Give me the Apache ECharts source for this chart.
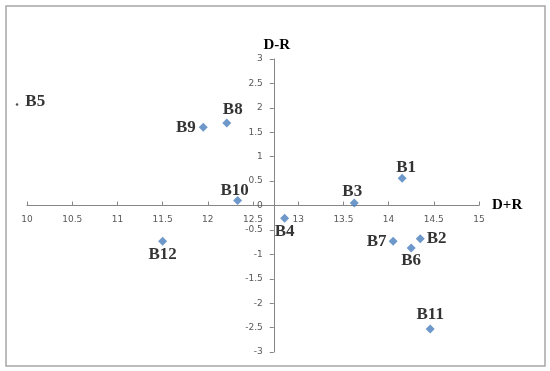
<!DOCTYPE html>
<html><head><meta charset="utf-8">
<script src="https://cdn.jsdelivr.net/npm/echarts@6/dist/echarts.min.js"></script>
<style>html,body{margin:0;padding:0;background:#fff}#c{width:550px;height:371px}</style>
</head><body><div id="c"></div>
<script>
// ---- data ----
const names   = ['B1','B2','B3','B4','B6','B7','B8','B9','B10','B11','B12'];
const dPlusR  = [14.15,14.35,13.62,12.85,14.25,14.05,12.21,11.95,12.33,14.46,11.50];
const dMinusR = [0.56,-0.68,0.05,-0.26,-0.87,-0.73,1.69,1.60,0.10,-2.53,-0.73];
const offNames = ['B5'];
const offX = [9.89];
const offY = [2.07];
const xMin = 10, xMax = 15, xStep = 0.5;
const yMin = -3, yMax = 3, yStep = 0.5;
const yCross = 12.73;
const xCross = 0;

// ---- style (label placement) ----
const labelStyle = {
  B1:{position:'top',distance:-2,offset:[4,0]},
  B2:{position:'right',distance:2},
  B3:{position:'top',distance:-2,offset:[-2,0]},
  B4:{position:'bottom',distance:0},
  B6:{position:'bottom',distance:0},
  B7:{position:'left',distance:2},
  B8:{position:'top',distance:0,offset:[6,0]},
  B9:{position:'left',distance:3},
  B10:{position:'top',distance:-3,offset:[-3,0]},
  B11:{position:'top',distance:1},
  B12:{position:'bottom',distance:0}
};

const W = 550, H = 371;
const gridLeft = 27, gridRight = 71, gridTop = 59, gridBottom = 19;
const lblFont = {fontFamily:'"Liberation Serif", serif', fontWeight:'bold', fontSize:17, color:'#000'};
const axisColor = '#868686';

const chart = echarts.init(document.getElementById('c'), null, {renderer:'canvas'});
const option = {
  backgroundColor:'#fff',
  animation:false,
  grid:{left:gridLeft,right:gridRight,top:gridTop,bottom:gridBottom,containLabel:false,outerBoundsMode:'none'},
  graphic:[{type:'rect',shape:{x:6,y:6,width:539,height:360},style:{fill:'none',stroke:'#a6a6a6',lineWidth:1.5},z:-1}],
  xAxis:{
    type:'value',min:xMin,max:xMax,interval:xStep,position:'bottom',
    name:'D+R',nameLocation:'end',nameGap:13,
    nameTextStyle:{fontFamily:'"Liberation Serif", serif',fontWeight:'bold',fontSize:15,color:'#000',padding:[5,0,0,0]},
    axisLine:{show:true,onZero:false,lineStyle:{color:axisColor,width:1}},
    axisTick:{show:true,inside:true,length:4,lineStyle:{color:axisColor}},
    axisLabel:{margin:10,fontFamily:'"DejaVu Sans", sans-serif',fontSize:9,color:'#595959',showMinLabel:true,showMaxLabel:true},
    splitLine:{show:false}
  },
  yAxis:{
    type:'value',min:yMin,max:yMax,interval:yStep,position:'left',
    name:'D-R',nameLocation:'end',nameGap:14,
    nameTextStyle:{fontFamily:'"Liberation Serif", serif',fontWeight:'bold',fontSize:15,color:'#000',verticalAlign:'middle',padding:[0,0,0,6]},
    axisLine:{show:true,onZero:false,lineStyle:{color:axisColor,width:1}},
    axisTick:{show:true,inside:false,length:4,lineStyle:{color:axisColor}},
    axisLabel:{margin:11,fontFamily:'"DejaVu Sans", sans-serif',fontSize:9,color:'#595959',showMinLabel:true,showMaxLabel:true},
    splitLine:{show:false}
  },
  series:[
    {
      type:'scatter',symbol:'diamond',symbolSize:9,clip:false,
      itemStyle:{color:'#4a7ebb'},
      label:Object.assign({show:true,formatter:'{b}'},lblFont),
      data:names.map((n,i)=>({name:n,value:[dPlusR[i],dMinusR[i]],label:labelStyle[n]}))
    },
    {
      type:'scatter',symbol:'circle',symbolSize:2.5,clip:false,
      itemStyle:{color:'#222'},
      label:Object.assign({show:true,formatter:'{b}',position:'right',distance:7,offset:[0,-3]},lblFont),
      data:offNames.map((n,i)=>({name:n,value:[offX[i],offY[i]]}))
    }
  ]
};
chart.setOption(option);
const p = chart.convertToPixel({gridIndex:0},[yCross,xCross]);
chart.setOption({
  xAxis:{offset: p[1] - (H - gridBottom)},
  yAxis:{offset: gridLeft - p[0]}
});
</script>
</body></html>
